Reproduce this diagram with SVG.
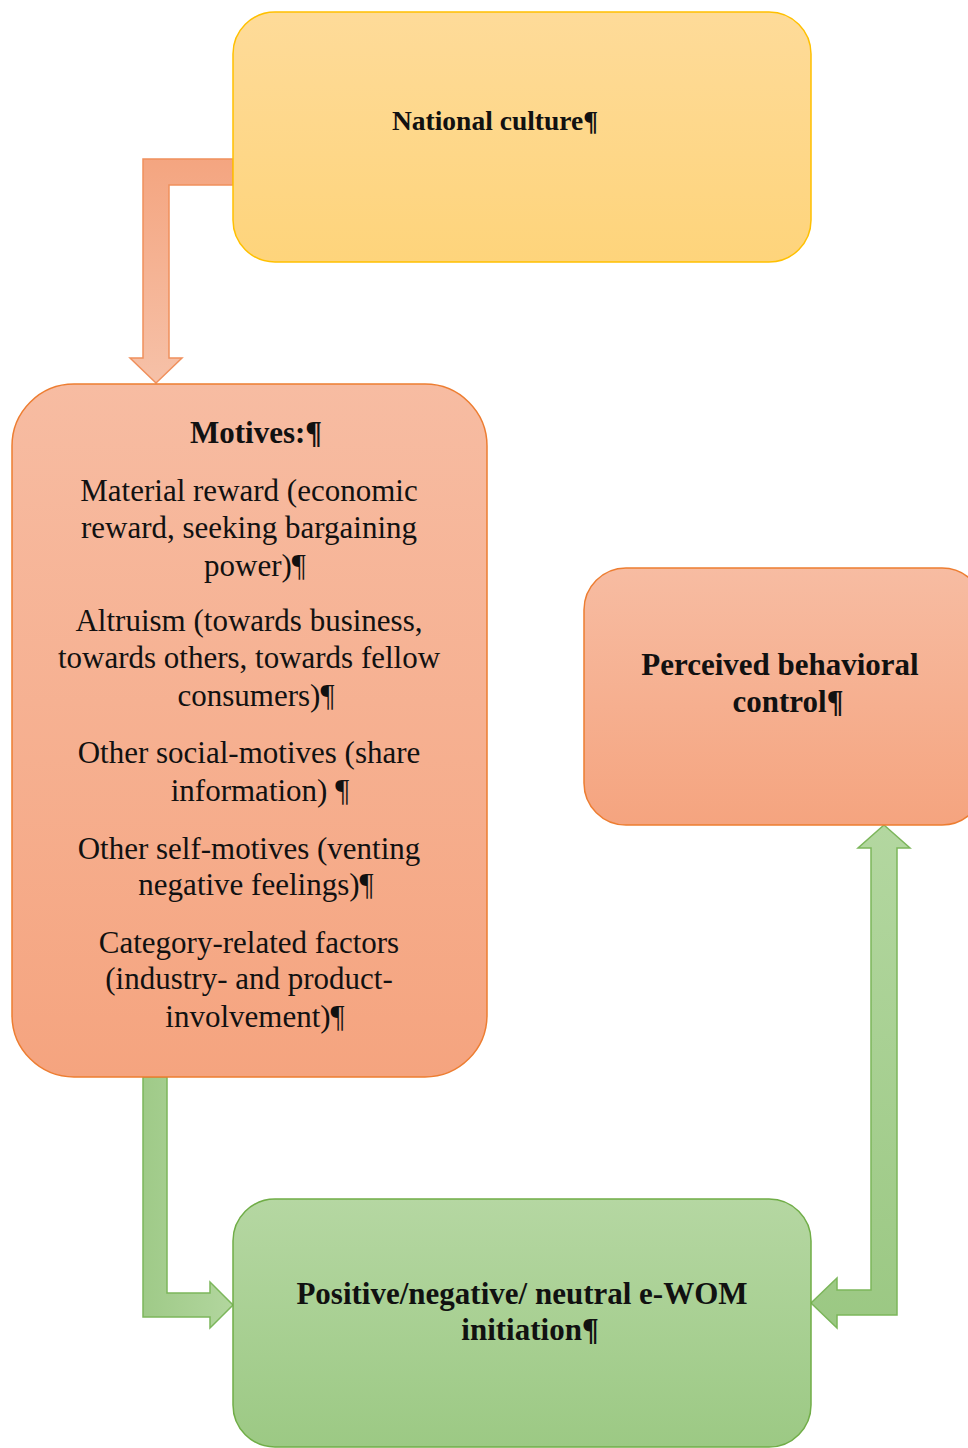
<svg xmlns="http://www.w3.org/2000/svg" width="968" height="1448" viewBox="0 0 968 1448">
<defs>
<linearGradient id="gY" x1="0" y1="0" x2="0" y2="1"><stop offset="0" stop-color="#FEDB99"/><stop offset="1" stop-color="#FED47B"/></linearGradient>
<linearGradient id="gO" x1="0" y1="0" x2="0" y2="1"><stop offset="0" stop-color="#F7BCA2"/><stop offset="1" stop-color="#F5A47F"/></linearGradient>
<linearGradient id="gG" x1="0" y1="0" x2="0" y2="1"><stop offset="0" stop-color="#B5D7A2"/><stop offset="1" stop-color="#9CC984"/></linearGradient>
<linearGradient id="aO" gradientUnits="userSpaceOnUse" x1="0" y1="159" x2="0" y2="383"><stop offset="0" stop-color="#F4A580"/><stop offset="1" stop-color="#F6C1A8"/></linearGradient>
<linearGradient id="aG1" gradientUnits="userSpaceOnUse" x1="143" y1="0" x2="233" y2="0"><stop offset="0" stop-color="#9FCA88"/><stop offset="1" stop-color="#B2D69E"/></linearGradient>
<linearGradient id="aG2" gradientUnits="userSpaceOnUse" x1="0" y1="825" x2="0" y2="1328"><stop offset="0" stop-color="#B3D7A0"/><stop offset="1" stop-color="#9BC883"/></linearGradient>
</defs>
<style>
.t{font-family:"Liberation Serif","Times New Roman",serif;fill:#111;text-anchor:middle}
.b{font-weight:bold}
.body{font-size:31px}
</style>
<g id="connectors">
<polygon points="233,159 143,159 143,358 130,358 156,383 182,358 169,358 169,185 233,185" fill="url(#aO)" stroke="#F0905C" stroke-width="1.5"/>
<polygon points="143,1077 143,1317 210,1317 210,1328 233,1305 210,1282 210,1293 167,1293 167,1077" fill="url(#aG1)" stroke="#7CB65B" stroke-width="1.5"/>
<polygon points="884,825 910,848 897,848 897,1315 837,1315 837,1328 811,1303 837,1278 837,1290 871,1290 871,848 858,848" fill="url(#aG2)" stroke="#7CB65B" stroke-width="1.5"/>
</g>
<g id="national-culture">
<rect x="233" y="12" width="578" height="250" rx="42" fill="url(#gY)" stroke="#FFC000" stroke-width="1.5"/>
<text class="t b" x="495" y="130" font-size="27.5">National culture¶</text>
</g>
<g id="motives">
<rect x="12" y="384" width="475" height="693" rx="62" fill="url(#gO)" stroke="#ED7D31" stroke-width="1.5"/>
<text class="t b body" x="256" y="443">Motives:¶</text>
<text class="t body" x="249" y="501">Material reward (economic</text>
<text class="t body" x="249" y="538">reward, seeking bargaining</text>
<text class="t body" x="255" y="576">power)¶</text>
<text class="t body" x="249" y="631">Altruism (towards business,</text>
<text class="t body" x="249" y="668">towards others, towards fellow</text>
<text class="t body" x="256" y="706">consumers)¶</text>
<text class="t body" x="249" y="763">Other social-motives (share</text>
<text class="t body" x="260" y="801">information) ¶</text>
<text class="t body" x="249" y="859">Other self-motives (venting</text>
<text class="t body" x="256" y="895">negative feelings)¶</text>
<text class="t body" x="249" y="953">Category-related factors</text>
<text class="t body" x="249" y="989">(industry- and product-</text>
<text class="t body" x="255" y="1027">involvement)¶</text>
</g>
<g id="perceived-behavioral-control">
<rect x="584" y="568" width="400" height="257" rx="42" fill="url(#gO)" stroke="#ED7D31" stroke-width="1.5"/>
<text class="t b body" x="780" y="675">Perceived behavioral</text>
<text class="t b body" x="788" y="712">control¶</text>
</g>
<g id="ewom-initiation">
<rect x="233" y="1199" width="578" height="248" rx="42" fill="url(#gG)" stroke="#70AD47" stroke-width="1.5"/>
<text class="t b body" x="522" y="1304">Positive/negative/ neutral e-WOM</text>
<text class="t b body" x="530" y="1340">initiation¶</text>
</g>
</svg>
